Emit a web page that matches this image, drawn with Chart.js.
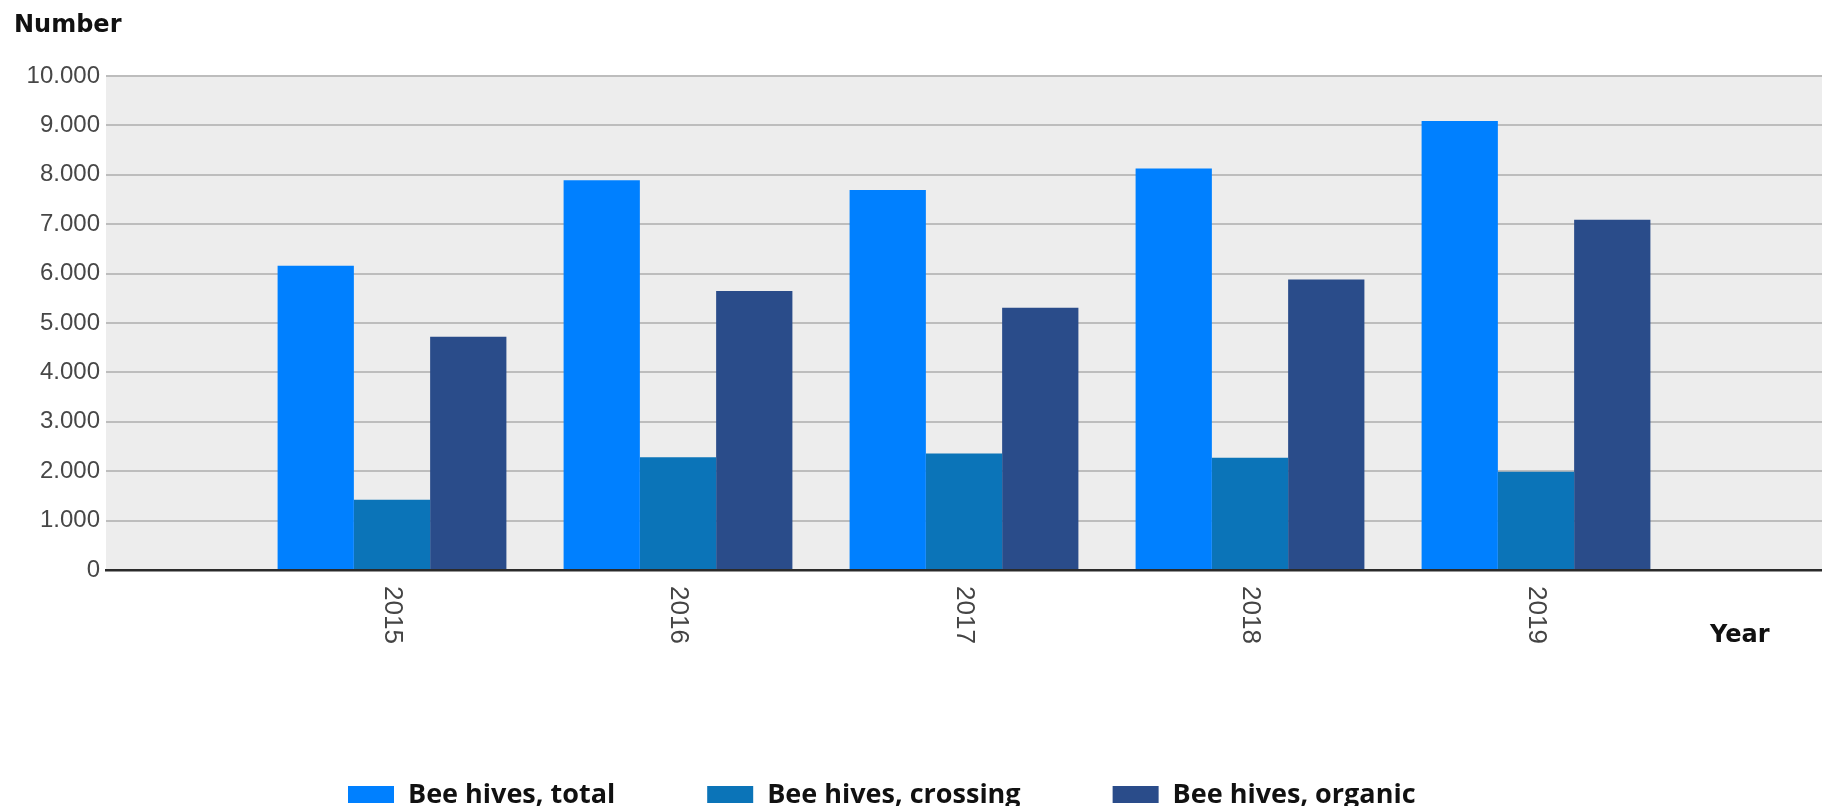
<!DOCTYPE html>
<html>
<head>
<meta charset="utf-8">
<script src="https://cdn.jsdelivr.net/npm/chart.js@4.4.1/dist/chart.umd.min.js"></script>
<style>
  html, body { margin: 0; padding: 0; background: #ffffff; overflow: hidden; }
  #wrap { width: 1822px; height: 806px; position: relative; }
</style>
</head>
<body>
<div id="wrap"><canvas id="c"></canvas></div>
<script>
// ---- data ----
const years = ['2015', '2016', '2017', '2018', '2019'];
const beeHivesTotal = [6160, 7890, 7690, 8130, 9090];
const beeHivesCrossing = [1420, 2280, 2360, 2270, 1990];
const beeHivesOrganic = [4720, 5650, 5310, 5880, 7090];
const seriesNames = ['Bee hives, total', 'Bee hives, crossing', 'Bee hives, organic'];
const seriesColors = ['#0080FF', '#0B74B8', '#2A4C8A'];
const yMin = 0, yMax = 10000, yStep = 1000;
const yAxisTitle = 'Number';
const xAxisTitle = 'Year';

// padded categories: an empty slot before and after the years
const labels = [''].concat(years, ['']);
const pad = arr => [null].concat(arr, [null]);

function fmtThousands(v) {
  return String(Math.round(v)).replace(/\B(?=(\d{3})+(?!\d))/g, '.');
}

const decor = {
  id: 'decor',
  beforeDraw(chart) {
    const { ctx, chartArea: a } = chart;
    ctx.save();
    ctx.fillStyle = '#EDEDED';
    ctx.fillRect(a.left, a.top, a.right - a.left, a.bottom - a.top);
    ctx.restore();
  },
  afterDraw(chart) {
    const { ctx, chartArea: a, scales: { x } } = chart;
    ctx.save();
    // rotated year labels (reading top to bottom)
    ctx.font = '26px "Liberation Sans", Arial, sans-serif';
    ctx.fillStyle = '#444444';
    ctx.textAlign = 'left';
    ctx.textBaseline = 'middle';
    years.forEach((yr, i) => {
      const px = x.getPixelForValue(i + 1);
      ctx.save();
      ctx.translate(px, a.bottom + 16);
      ctx.rotate(Math.PI / 2);
      ctx.fillText(yr, 0, 0);
      ctx.restore();
    });
    // axis titles
    ctx.font = 'bold 24px "DejaVu Sans", sans-serif';
    ctx.fillStyle = '#111111';
    ctx.textAlign = 'left';
    ctx.textBaseline = 'alphabetic';
    ctx.fillText(yAxisTitle, 14, 32);
    ctx.fillText(xAxisTitle, 1710, 642);
    // legend
    ctx.font = 'bold 27px "Open Sans", sans-serif';
    ctx.textBaseline = 'middle';
    let lx = 348;
    const ly = 794;
    chart.data.datasets.forEach(ds => {
      ctx.fillStyle = ds.backgroundColor;
      ctx.fillRect(lx, ly - 8, 46, 17);
      lx += 46 + 14;
      ctx.fillStyle = '#111111';
      ctx.fillText(ds.label, lx, ly + 1);
      lx += ctx.measureText(ds.label).width + 92;
    });
    ctx.restore();
  }
};

new Chart(document.getElementById('c'), {
  type: 'bar',
  data: {
    labels: labels,
    datasets: [
      { label: seriesNames[0], data: pad(beeHivesTotal), backgroundColor: seriesColors[0] },
      { label: seriesNames[1], data: pad(beeHivesCrossing), backgroundColor: seriesColors[1] },
      { label: seriesNames[2], data: pad(beeHivesOrganic), backgroundColor: seriesColors[2] }
    ]
  },
  options: {
    responsive: true,
    maintainAspectRatio: false,
    animation: false,
    devicePixelRatio: 1,
    categoryPercentage: 0.8,
    barPercentage: 1.0,
    layout: { padding: { top: 76, left: 0, right: -6, bottom: 0 } },
    plugins: {
      legend: { display: false },
      tooltip: { enabled: false },
      title: { display: false }
    },
    scales: {
      x: {
        type: 'category',
        offset: false,
        grid: { display: false, drawTicks: false },
        border: { display: true, color: '#2b2b2b', width: 2.5 },
        ticks: { display: false },
        afterFit(scale) { scale.height = 236; }
      },
      y: {
        min: yMin,
        max: yMax,
        grid: {
          color: '#BDBDBD',
          lineWidth: 2,
          drawTicks: false
        },
        border: { display: false },
        ticks: {
          stepSize: yStep,
          padding: 6,
          color: '#474747',
          font: { family: '"Liberation Sans", Arial, sans-serif', size: 24 },
          callback: v => fmtThousands(v)
        },
        afterFit(scale) { scale.width = 106; }
      }
    }
  },
  plugins: [decor]
});
</script>
</body>
</html>
